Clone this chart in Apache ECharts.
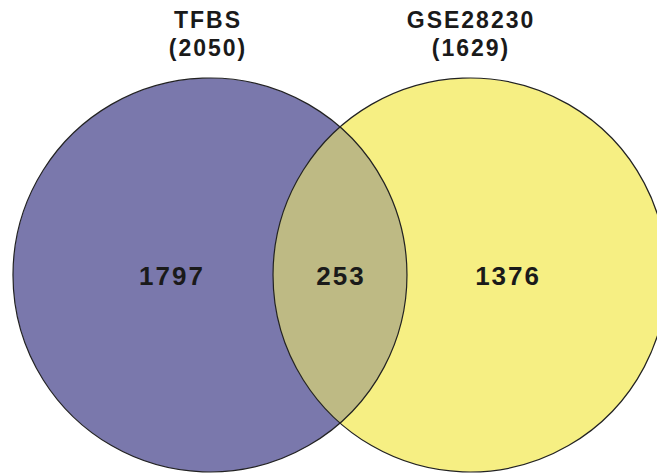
<!DOCTYPE html>
<html>
<head>
<meta charset="utf-8">
<script src="https://cdn.jsdelivr.net/npm/echarts@6/dist/echarts.min.js"></script>
<style>
  html, body { margin: 0; padding: 0; background: #ffffff; }
  #chart { width: 657px; height: 475px; }
  #chart text { letter-spacing: 2px; }
</style>
</head>
<body>
<div id="chart"></div>
<script>
// ---- data ----
const setNames = ['TFBS', 'GSE28230'];
const setTotals = [2050, 1629];
const regionNames = ['TFBS only', 'TFBS ∩ GSE28230', 'GSE28230 only'];
const regionValues = [1797, 253, 1376];

// ---- layout (unit circles, drawn through the axis scales) ----
const R = 1;                 // circle radius in axis units
const centersX = [-0.66, 0.66];
const centerY = 0;
const regionLabelX = [-0.858, 0, 0.848];
const titleX = [-0.675, 0.66];
const titleY = [1.295, 1.15];
const fills = ['#7A78AC', '#F6EF83'];
const overlapFill = '#BEBA84';
const strokeColor = '#222222';
const textColor = '#1a1a1a';
const fontFamily = '"Liberation Sans", Arial, Helvetica, sans-serif';

const chart = echarts.init(document.getElementById('chart'), null, { renderer: 'svg' });

function txt(x, y, text, size) {
  return {
    type: 'text',
    x: x, y: y,
    style: {
      text: text, fill: textColor,
      fontSize: size, fontWeight: 'bold', fontFamily: fontFamily,
      align: 'center', verticalAlign: 'middle'
    }
  };
}

function renderItem(params, api) {
  const children = [];
  const rPx = api.size([R, R])[0];
  const cPx = centersX.map(cx => api.coord([cx, centerY]));
  // filled circles
  cPx.forEach((c, i) => {
    children.push({
      type: 'circle',
      shape: { cx: c[0], cy: c[1], r: rPx },
      style: { fill: fills[i], stroke: null }
    });
  });
  // lens (intersection)
  const d = cPx[1][0] - cPx[0][0];
  const theta = Math.acos((d / 2) / rPx);
  const pts = [];
  const n = 80;
  for (let k = 0; k <= n; k++) {
    const a = -theta + (2 * theta * k) / n;
    pts.push([cPx[0][0] + rPx * Math.cos(a), cPx[0][1] + rPx * Math.sin(a)]);
  }
  for (let k = 0; k <= n; k++) {
    const a = Math.PI - theta + (2 * theta * k) / n;
    pts.push([cPx[1][0] + rPx * Math.cos(a), cPx[1][1] + rPx * Math.sin(a)]);
  }
  children.push({
    type: 'polygon',
    shape: { points: pts },
    style: { fill: overlapFill, stroke: null }
  });
  // outlines
  cPx.forEach((c) => {
    children.push({
      type: 'circle',
      shape: { cx: c[0], cy: c[1], r: rPx },
      style: { fill: 'none', stroke: strokeColor, lineWidth: 1.2 }
    });
  });
  // titles
  setNames.forEach((name, i) => {
    const p1 = api.coord([titleX[i], titleY[0]]);
    const p2 = api.coord([titleX[i], titleY[1]]);
    children.push(txt(p1[0] + 1, p1[1], name, 23));
    children.push(txt(p2[0] + 1, p2[1], '(' + setTotals[i] + ')', 23));
  });
  // region counts
  regionValues.forEach((v, i) => {
    const p = api.coord([regionLabelX[i], centerY]);
    children.push(txt(p[0] + 1, p[1] + 1, String(v), 26));
  });
  return { type: 'group', children };
}

chart.setOption({
  animation: false,
  backgroundColor: '#ffffff',
  grid: { left: 0, right: 0, top: 0, bottom: 0 },
  xAxis: { type: 'value', min: -340 / 197, max: 317 / 197, show: false },
  yAxis: { type: 'value', min: -200 / 197, max: 275 / 197, show: false },
  series: [{
    type: 'custom',
    renderItem: renderItem,
    data: [[0, 0]],
    clip: false,
    silent: true
  }]
});
</script>
</body>
</html>
